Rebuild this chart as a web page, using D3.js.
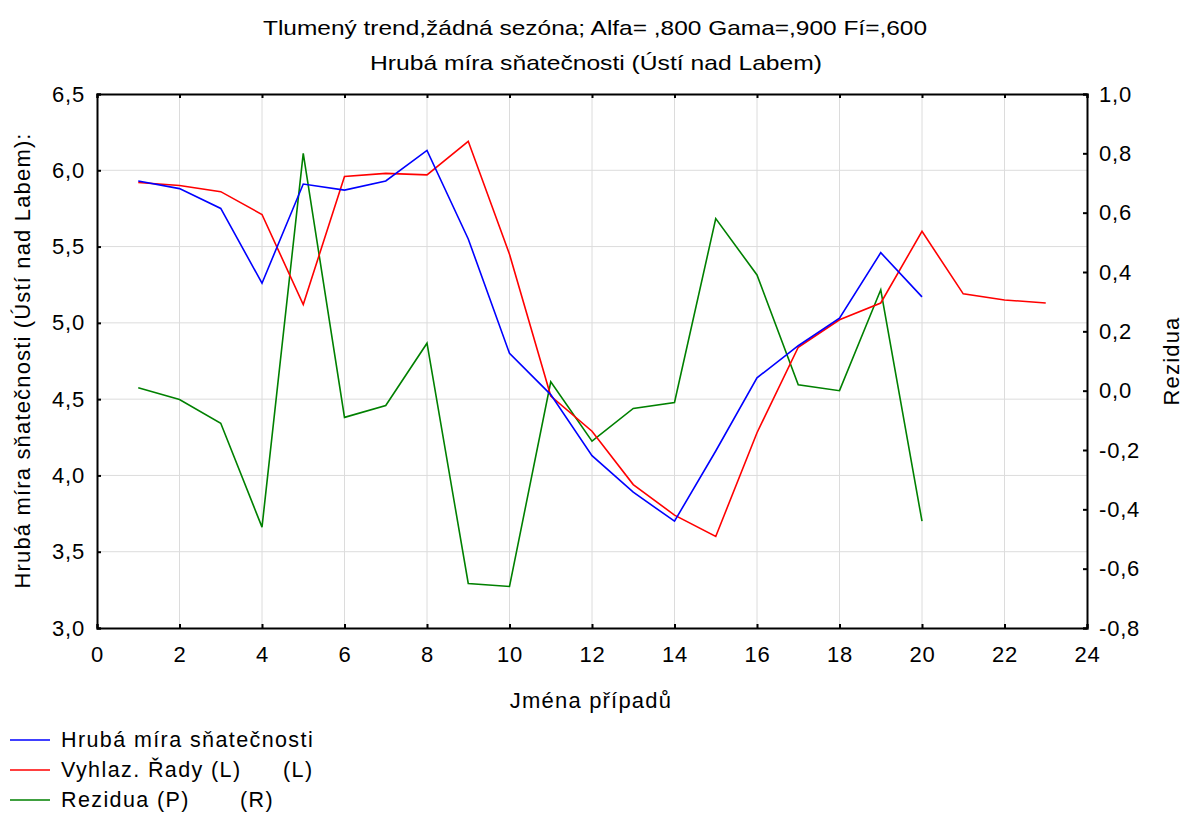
<!DOCTYPE html>
<html>
<head>
  <style>
    body { margin: 0; background: #fff; }
    text { font-family: "Liberation Sans", Arial, sans-serif; fill: #000; }
  </style>
</head>
<body>
  <script src="https://d3js.org/d3.v7.min.js"></script>
  <svg id="chart"></svg>
  <script>
    // case numbers
    var cases = [1, 2, 3, 4, 5, 6, 7, 8, 9, 10, 11, 12, 13, 14, 15, 16, 17, 18, 19, 20, 21, 22, 23];
    // Hrubá míra sňatečnosti (observed)
    var observed = [5.93, 5.88, 5.75, 5.26, 5.91, 5.87, 5.93, 6.13, 5.55, 4.80,
      4.53, 4.13, 3.89, 3.70, 4.16, 4.64, 4.85, 5.03, 5.46, 5.17];
    // Vyhlaz. Řady (smoothed, left axis)
    var smoothed = [5.92, 5.90, 5.86, 5.71, 5.12, 5.96, 5.98, 5.97, 6.19, 5.45,
      4.52, 4.29, 3.94, 3.74, 3.60, 4.28, 4.84, 5.02, 5.13, 5.60, 5.19, 5.15, 5.13];
    // Rezidua (right axis)
    var residuals = [0.01, -0.03, -0.11, -0.46, 0.80, -0.09, -0.05, 0.16, -0.65, -0.66,
      0.03, -0.17, -0.06, -0.04, 0.58, 0.39, 0.02, 0.00, 0.34, -0.44];

    var xTicks = [0, 2, 4, 6, 8, 10, 12, 14, 16, 18, 20, 22, 24];
    var leftTicks = [3.0, 3.5, 4.0, 4.5, 5.0, 5.5, 6.0, 6.5];
    var rightTicks = [-0.8, -0.6, -0.4, -0.2, 0.0, 0.2, 0.4, 0.6, 0.8, 1.0];

    var width = 1184, height = 814;
    var margin = {left: 97, right: 97, top: 94, bottom: 186};

    var svg = d3.select('#chart').attr('width', width).attr('height', height);

    var x = d3.scaleLinear().domain([0, 24]).range([margin.left, width - margin.right]);
    var yL = d3.scaleLinear().domain([3.0, 6.5]).range([height - margin.bottom, margin.top]);
    var yR = d3.scaleLinear().domain([-0.8, 1.0]).range([height - margin.bottom, margin.top]);

    var comma = function(d) { return d3.format('.1f')(d).replace('.', ',').replace('−', '-'); };

    // grid
    svg.append('g').selectAll('line').data(xTicks.slice(1, -1)).join('line')
      .attr('x1', d => x(d)).attr('x2', d => x(d))
      .attr('y1', margin.top).attr('y2', height - margin.bottom)
      .attr('stroke', '#dcdcdc').attr('stroke-width', 1);
    svg.append('g').selectAll('line').data(leftTicks.slice(1, -1)).join('line')
      .attr('x1', margin.left).attr('x2', width - margin.right)
      .attr('y1', d => yL(d)).attr('y2', d => yL(d))
      .attr('stroke', '#dcdcdc').attr('stroke-width', 1);

    // axes
    var axB = svg.append('g').attr('transform', 'translate(0,' + (height - margin.bottom) + ')')
      .call(d3.axisBottom(x).tickValues(xTicks).tickSize(-4).tickPadding(18).tickFormat(d3.format('d')));
    var axT = svg.append('g').attr('transform', 'translate(0,' + margin.top + ')')
      .call(d3.axisTop(x).tickValues(xTicks).tickSize(-4).tickFormat(''));
    var axL = svg.append('g').attr('transform', 'translate(' + margin.left + ',0)')
      .call(d3.axisLeft(yL).tickValues(leftTicks).tickSize(-4).tickPadding(12).tickFormat(comma));
    var axR = svg.append('g').attr('transform', 'translate(' + (width - margin.right) + ',0)')
      .call(d3.axisRight(yR).tickValues(rightTicks).tickSize(-4).tickPadding(12).tickFormat(comma));

    [axB, axT, axL, axR].forEach(function(a) {
      a.select('.domain').attr('stroke', '#000').attr('stroke-width', 2);
      a.selectAll('.tick line').attr('stroke', '#000').attr('stroke-width', 2);
      a.selectAll('.tick text').style('font-size', '22px').style('letter-spacing', '0.8px')
        .style('font-family', '"Liberation Sans", Arial, sans-serif');
    });

    // series
    var lineL = d3.line().x((d, i) => x(cases[i])).y(d => yL(d));
    var lineR = d3.line().x((d, i) => x(cases[i])).y(d => yR(d));

    svg.append('path').datum(residuals).attr('d', lineR)
      .attr('fill', 'none').attr('stroke', '#008000').attr('stroke-width', 1.6);
    svg.append('path').datum(smoothed).attr('d', lineL)
      .attr('fill', 'none').attr('stroke', '#ff0000').attr('stroke-width', 1.6);
    svg.append('path').datum(observed).attr('d', lineL)
      .attr('fill', 'none').attr('stroke', '#0000ff').attr('stroke-width', 1.6);

    // titles
    svg.append('text').attr('x', 595).attr('y', 35).attr('text-anchor', 'middle')
      .style('font-size', '21px').attr('textLength', 664).attr('lengthAdjust', 'spacingAndGlyphs')
      .text('Tlumený trend,žádná sezóna; Alfa=  ,800 Gama=,900 Fí=,600');
    svg.append('text').attr('x', 596).attr('y', 70).attr('text-anchor', 'middle')
      .style('font-size', '21px').attr('textLength', 452).attr('lengthAdjust', 'spacingAndGlyphs')
      .text('Hrubá míra sňatečnosti (Ústí nad Labem)');

    svg.append('text').attr('x', 591).attr('y', 708).attr('text-anchor', 'middle')
      .style('font-size', '22px').style('letter-spacing', '1.2px').text('Jména případů');

    svg.append('text').attr('transform', 'translate(30,' + ((margin.top + height - margin.bottom) / 2) + ') rotate(-90)')
      .attr('text-anchor', 'middle').style('font-size', '22px')
      .attr('textLength', 455).attr('lengthAdjust', 'spacing')
      .text('Hrubá míra sňatečnosti (Ústí nad Labem):');
    svg.append('text').attr('transform', 'translate(1179,' + ((margin.top + height - margin.bottom) / 2) + ') rotate(-90)')
      .attr('text-anchor', 'middle').style('font-size', '22px').style('letter-spacing', '1.2px')
      .text('Rezidua');

    // legend
    var legendItems = [
      {label: 'Hrubá míra sňatečnosti', suffix: '', color: '#0000ff'},
      {label: 'Vyhlaz. Řady (L)', suffix: '(L)', color: '#ff0000'},
      {label: 'Rezidua (P)', suffix: '(R)', color: '#008000'}
    ];
    var suffixX = [0, 283, 240];
    var lg = svg.append('g').selectAll('g').data(legendItems).join('g')
      .attr('transform', (d, i) => 'translate(0,' + (740 + i * 30) + ')');
    lg.append('line').attr('x1', 10).attr('x2', 50).attr('y1', 0).attr('y2', 0)
      .attr('stroke', d => d.color).attr('stroke-width', 1.6);
    lg.append('text').attr('x', 61).attr('y', 7).style('font-size', '21.5px')
      .style('letter-spacing', '1.4px').text(d => d.label);
    lg.append('text').attr('x', (d, i) => suffixX[i]).attr('y', 7).style('font-size', '21.5px')
      .style('letter-spacing', '1.4px').text(d => d.suffix);
  </script>
</body>
</html>
